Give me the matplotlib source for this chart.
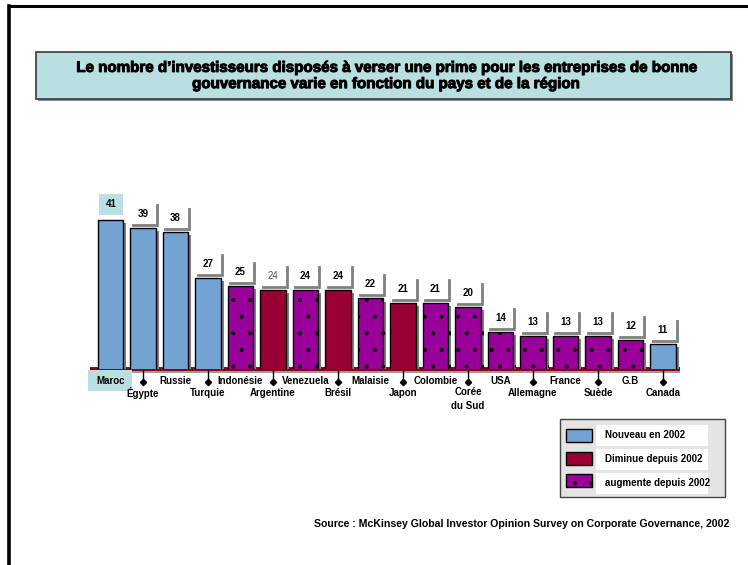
import matplotlib
matplotlib.use("Agg")
import matplotlib.pyplot as plt
import matplotlib.transforms as mtransforms
from matplotlib.patches import Rectangle
from matplotlib.lines import Line2D
import matplotlib.patheffects as pe

plt.rcParams['font.family'] = ['Liberation Sans', 'DejaVu Sans']
plt.rcParams['hatch.linewidth'] = 0.4

# ---------------- data ----------------
countries = ["Maroc", "Égypte", "Russie", "Turquie", "Indonésie", "Argentine",
             "Venezuela", "Brésil", "Malaisie", "Japon", "Colombie", "Corée\ndu Sud",
             "USA", "Allemagne", "France", "Suède", "G.B", "Canada"]
values = [41, 39, 38, 27, 25, 24, 24, 24, 22, 21, 21, 20, 14, 13, 13, 13, 12, 11]
# status: N = Nouveau en 2002, D = Diminue depuis 2002, A = augmente depuis 2002
status = ["N", "N", "N", "N", "A", "D", "A", "D", "A", "D", "A", "A",
          "A", "A", "A", "A", "A", "N"]
legend_labels = ["Nouveau en 2002", "Diminue depuis 2002", "augmente depuis 2002"]
title = ("Le nombre d\u2019investisseurs disposés à verser une prime pour les entreprises de bonne\n"
         "gouvernance varie en fonction du pays et de la région")
source = "Source : McKinsey Global Investor Opinion Survey on Corporate Governance, 2002"

BLUE = "#72A3D3"
RED = "#990033"
PURPLE = "#990099"
CYAN = "#BADFE1"
colors = {"N": BLUE, "D": RED, "A": PURPLE}
hatches = {"N": None, "D": None, "A": "."}

W, H = 748, 565
fig = plt.figure(figsize=(W / 100, H / 100), dpi=100)
fig.patch.set_facecolor("white")


def fx(x):
    return x / W


def fy(y):
    return 1 - y / H


# frame lines
fig.add_artist(Line2D([fx(9), 1], [fy(6), fy(6)], color="black", lw=2.2,
                      transform=fig.transFigure))
fig.add_artist(Line2D([fx(9), fx(9)], [fy(6), 0], color="black", lw=2.6,
                      transform=fig.transFigure))

# title box
fig.add_artist(Rectangle((fx(38), fy(101)), fx(731) - fx(36), fy(52) - fy(99),
                         transform=fig.transFigure, facecolor="#8a8a8a",
                         edgecolor="none"))
fig.add_artist(Rectangle((fx(36), fy(99)), fx(731) - fx(36), fy(52) - fy(99),
                         transform=fig.transFigure, facecolor=CYAN,
                         edgecolor="#3a3a3a", lw=1.2))
fig.text(fx(386), fy(76), title, ha="center", va="center", fontsize=10.9,
         fontweight="bold", linespacing=1.2, color="black",
         path_effects=[pe.withStroke(linewidth=0.7, foreground="black")])

# axes
base_px = 369
px_per_unit = 4.15
ylo, yhi = 5, 50
ax_h = (yhi - ylo) * px_per_unit
ax = fig.add_axes([fx(94.25), (H - base_px) / H, 585 / W, ax_h / H])
ax.set_xlim(-0.5, len(values) - 0.5)
ax.set_ylim(ylo, yhi)
ax.axis("off")

# baseline
ax.plot([-0.62, len(values) - 0.48], [ylo, ylo], color="#8B0010", lw=2.8,
        solid_capstyle="butt", clip_on=False, zorder=1,
        path_effects=[pe.SimpleLineShadow(offset=(0, -1.5), shadow_color="#999999", alpha=1),
                      pe.Normal()])

bar_w = 0.77
for i, (v, s) in enumerate(zip(values, status)):
    ax.bar(i, v, width=bar_w, color=colors[s], edgecolor="black", lw=1.0,
           hatch=hatches[s], zorder=3,
           path_effects=[pe.SimplePatchShadow(offset=(2.2, -2.2), shadow_rgbFace="#7f7f7f",
                                              alpha=1), pe.Normal()])


def local(x, y):
    # pixel-unit coordinates relative to data point (x, y)
    return mtransforms.Affine2D() + mtransforms.ScaledTranslation(x, y, ax.transData)


# value labels
for i, v in enumerate(values):
    t = local(i, v)
    if i == 0:
        ax.add_patch(Rectangle((-11.5, 5), 24, 21, transform=t, facecolor=CYAN,
                               edgecolor="none", clip_on=False, zorder=4))
        ax.text(0.5, 15.5, str(v), transform=t, ha="center", va="center",
                fontsize=7, fontweight="bold", clip_on=False, zorder=5)
        continue
    ax.add_line(Line2D([-10.5, 13.5, 13.5], [3, 3, 23], transform=t,
                       color="#808080", lw=2.0, clip_on=False, zorder=4,
                       solid_joinstyle="miter"))
    if i == 5:
        ax.text(0, 14, str(v), transform=t, ha="center", va="center",
                fontsize=7, color="#555555", clip_on=False, zorder=5)
    else:
        ax.text(0, 14, str(v), transform=t, ha="center", va="center",
                fontsize=7, fontweight="bold", clip_on=False, zorder=5)

# category labels
for i, name in enumerate(countries):
    t = local(i, ylo)
    if i % 2 == 0:
        if i == 0:
            ax.add_patch(Rectangle((-22.5, -22), 44, 21, transform=t,
                                   facecolor=CYAN, edgecolor="none",
                                   clip_on=False, zorder=4))
        ax.text(0, -12, name, transform=t, ha="center", va="center",
                fontsize=7, fontweight="bold", clip_on=False, zorder=5)
    else:
        ax.add_line(Line2D([0, 0], [-2, -12], transform=t, color="black",
                           lw=1.0, clip_on=False, zorder=5))
        ax.add_line(Line2D([0], [-13], transform=t, marker="D", markersize=3.2,
                           color="black", clip_on=False, zorder=5))
        if "\n" in name:
            ax.text(0, -18, name, transform=t, ha="center", va="top",
                    fontsize=7, fontweight="bold", clip_on=False, zorder=5,
                    linespacing=1.45)
        else:
            ax.text(0, -24, name, transform=t, ha="center", va="center",
                    fontsize=7, fontweight="bold", clip_on=False, zorder=5)

# legend
fig.add_artist(Rectangle((fx(560), fy(497)), fx(725) - fx(560), fy(419) - fy(497),
                         transform=fig.transFigure, facecolor="#E4E4E4",
                         edgecolor="#444444", lw=1.0))
row_tops = [425, 449, 473]
sw_centers = [435.5, 458, 480]
for k, (lab, key) in enumerate(zip(legend_labels, ["N", "D", "A"])):
    fig.add_artist(Rectangle((fx(596), fy(row_tops[k] + 21)), fx(708) - fx(596), 21 / H,
                             transform=fig.transFigure, facecolor="white",
                             edgecolor="none"))
    fig.add_artist(Rectangle((fx(566), fy(sw_centers[k] + 6.5)), fx(592) - fx(566), 13 / H,
                             transform=fig.transFigure, facecolor=colors[key],
                             edgecolor="black", lw=1.0, hatch=hatches[key]))
    fig.text(fx(605), fy(row_tops[k] + 10.5), lab, ha="left", va="center",
             fontsize=7, fontweight="bold")

# source
fig.text(fx(729), fy(524), source, ha="right", va="center", fontsize=7.6,
         fontweight="bold")

fig.savefig("out.png", dpi=100, facecolor="white")
